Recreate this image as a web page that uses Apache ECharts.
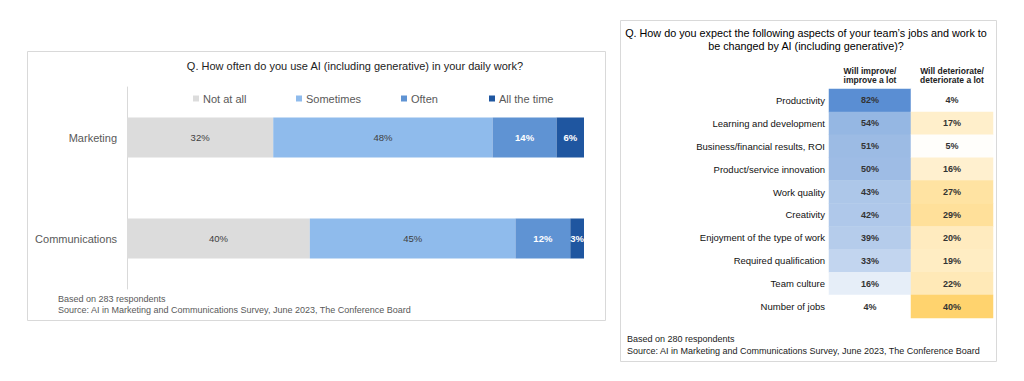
<!DOCTYPE html>
<html>
<head>
<meta charset="utf-8">
<script src="https://cdn.jsdelivr.net/npm/echarts@6/dist/echarts.min.js"></script>
<style>
html,body{margin:0;padding:0;background:#fff;}
#c{width:1024px;height:381px;}
</style>
</head>
<body>
<div id="c"></div>
<script>
// ---- Left chart data ----
const categories = ['Marketing', 'Communications'];
const seriesNames = ['Not at all', 'Sometimes', 'Often', 'All the time'];
const notAtAll = [32, 40];
const sometimes = [48, 45];
const often = [14, 12];
const allTheTime = [6, 3];

// ---- Right table data ----
const aspects = ['Productivity', 'Learning and development', 'Business/financial results, ROI',
  'Product/service innovation', 'Work quality', 'Creativity', 'Enjoyment of the type of work',
  'Required qualification', 'Team culture', 'Number of jobs'];
const columns = ['Will improve/\nimprove a lot', 'Will deteriorate/\ndeteriorate a lot'];
const improve = [82, 54, 51, 50, 43, 42, 39, 33, 16, 4];
const deteriorate = [4, 17, 5, 16, 27, 29, 20, 19, 22, 40];

const FONT = "'Liberation Sans', Arial, sans-serif";
const chart = echarts.init(document.getElementById('c'), null, {renderer: 'svg'});

const barColors = ['#dcdcdc', '#8fbbec', '#5f93d3', '#1f56a0'];
const labelColors = ['#404040', '#404040', '#ffffff', '#ffffff'];
const barData = [notAtAll, sometimes, often, allTheTime];
const legendLefts = [188, 291, 396, 484];

const barSeries = barData.map((d, i) => ({
  name: seriesNames[i], type: 'bar', stack: 'total',
  xAxisIndex: 0, yAxisIndex: 0, barWidth: 40,
  itemStyle: {color: barColors[i]},
  label: {show: true, position: 'inside', formatter: '{c}%', fontSize: 9.5,
    fontFamily: FONT, color: labelColors[i], fontWeight: i >= 2 ? 'bold' : 'normal'},
  data: d
}));

const heatSeries = [improve, deteriorate].map((vals, ci) => ({
  type: 'heatmap', xAxisIndex: 1, yAxisIndex: 1,
  data: vals.map((v, ri) => [ci, ri, v]),
  label: {show: true, formatter: p => p.value[2] + '%', fontSize: 9, fontWeight: 'bold',
    fontFamily: FONT, color: '#333'},
  emphasis: {disabled: true},
  itemStyle: {borderWidth: 0}
}));

chart.setOption({
  animation: false,
  textStyle: {fontFamily: FONT},
  legend: seriesNames.map((n, i) => ({
    data: [n], left: legendLefts[i], top: 88, icon: 'rect', itemWidth: 6, itemHeight: 6,
    itemGap: 4, textStyle: {fontSize: 11, color: '#595959', fontFamily: FONT, padding: [0, 0, 0, -1]},
    selectedMode: false
  })),
  grid: [
    {left: 127, right: 440, top: 87, height: 202},
    {left: 829, right: 31, top: 89, height: 229}
  ],
  xAxis: [
    {gridIndex: 0, type: 'value', min: 0, max: 100, show: false},
    {gridIndex: 1, type: 'category', data: columns, position: 'top',
      axisLine: {show: false}, axisTick: {show: false}, splitLine: {show: false},
      axisLabel: {interval: 0, hideOverlap: false, fontSize: 8.5, fontWeight: 'bold', color: '#222',
        lineHeight: 9, margin: 5, fontFamily: FONT}}
  ],
  yAxis: [
    {gridIndex: 0, type: 'category', data: categories, inverse: true,
      axisLine: {show: true, lineStyle: {color: '#d9d9d9'}}, axisTick: {show: false},
      axisLabel: {fontSize: 11, color: '#595959', margin: 10, fontFamily: FONT}},
    {gridIndex: 1, type: 'category', data: aspects, inverse: true,
      axisLine: {show: false}, axisTick: {show: false}, splitLine: {show: false},
      axisLabel: {interval: 0, fontSize: 9.5, color: '#111', margin: 4, fontFamily: FONT}}
  ],
  visualMap: [
    {type: 'continuous', seriesIndex: 4, min: 4, max: 82, show: false,
      inRange: {color: ['#ffffff', '#5a8ed3']}},
    {type: 'continuous', seriesIndex: 5, min: 4, max: 40, show: false,
      inRange: {color: ['#ffffff', '#ffd36e']}}
  ],
  series: barSeries.concat(heatSeries),
  graphic: [
    {type: 'rect', shape: {x: 27.5, y: 51.5, width: 578, height: 269}, silent: true,
      style: {fill: 'none', stroke: '#d9d9d9', lineWidth: 1}},
    {type: 'rect', shape: {x: 620.5, y: 20.5, width: 376, height: 341}, silent: true,
      style: {fill: 'none', stroke: '#d9d9d9', lineWidth: 1}},
    {type: 'text', x: 355, y: 66, style: {text: 'Q. How often do you use AI (including generative) in your daily work?',
      font: '11px ' + FONT, fill: '#222', textAlign: 'center', textVerticalAlign: 'middle'}},
    {type: 'text', x: 58, y: 299, style: {text: 'Based on 283 respondents',
      font: '9px ' + FONT, fill: '#595959', textVerticalAlign: 'middle'}},
    {type: 'text', x: 58, y: 310, style: {text: 'Source: AI in Marketing and Communications Survey, June 2023, The Conference Board',
      font: '9px ' + FONT, fill: '#595959', textVerticalAlign: 'middle'}},
    {type: 'text', x: 806, y: 33, style: {text: 'Q. How do you expect the following aspects of your team\u2019s jobs and work to',
      font: '10.8px ' + FONT, fill: '#000', textAlign: 'center', textVerticalAlign: 'middle'}},
    {type: 'text', x: 806, y: 46, style: {text: 'be changed by AI (including generative)?',
      font: '10.8px ' + FONT, fill: '#000', textAlign: 'center', textVerticalAlign: 'middle'}},
    {type: 'text', x: 627, y: 339, style: {text: 'Based on 280 respondents',
      font: '9px ' + FONT, fill: '#222', textVerticalAlign: 'middle'}},
    {type: 'text', x: 627, y: 351, style: {text: 'Source: AI in Marketing and Communications Survey, June 2023, The Conference Board',
      font: '9px ' + FONT, fill: '#222', textVerticalAlign: 'middle'}}
  ]
});
</script>
</body>
</html>
